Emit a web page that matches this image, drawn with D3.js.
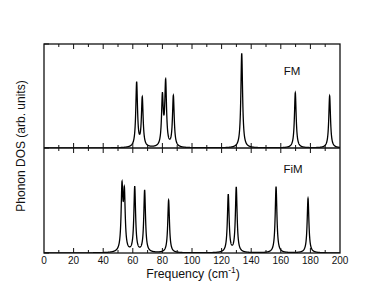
<!DOCTYPE html>
<html><head><meta charset="utf-8">
<script src="https://cdn.jsdelivr.net/npm/d3@7"></script>
<style>body{margin:0;background:#fff;}svg{display:block;}text{font-family:"Liberation Sans",Arial,Helvetica,sans-serif;fill:#111;}</style>
</head><body>
<svg id="c" width="385" height="298"></svg>
<script>
// Peak positions (cm^-1) and intensities (arb. units) for each panel
const fmFreq = [62.6, 66.4, 80.0, 82.2, 87.4, 133.6, 169.8, 193.0];
const fmInt  = [0.62, 0.47, 0.47, 0.61, 0.49, 0.91, 0.53, 0.50];
const fimFreq = [52.7, 54.3, 61.3, 68.0, 84.2, 124.5, 129.9, 156.8, 178.4];
const fimInt  = [0.59, 0.53, 0.62, 0.59, 0.50, 0.55, 0.62, 0.63, 0.52];
const panelLabels = ["FM", "FiM"];
const xTicks = [0, 20, 40, 60, 80, 100, 120, 140, 160, 180, 200];
const gamma = 0.7; // Lorentzian half-width used to broaden the peaks

const svg = d3.select("#c");
const L = 44, R = 340, T = 44, M = 148, B = 253;
const x = d3.scaleLinear().domain([0, 200]).range([L, R]);
const yTop = d3.scaleLinear().domain([0, 1]).range([M, T]);
const yBot = d3.scaleLinear().domain([0, 1]).range([B, M]);

function dos(freqs, ints) {
  const pts = [];
  for (let i = 0; i <= 4000; i++) {
    const f = i * 0.05;
    let s = 0;
    freqs.forEach((f0, k) => { s += ints[k] * gamma * gamma / ((f - f0) * (f - f0) + gamma * gamma); });
    pts.push([f, s]);
  }
  return pts;
}

svg.append("clipPath").attr("id", "clipT").append("rect").attr("x", L).attr("y", T).attr("width", R - L).attr("height", M - T);
svg.append("clipPath").attr("id", "clipB").append("rect").attr("x", L).attr("y", M).attr("width", R - L).attr("height", B - M);

const lineT = d3.line().x(d => x(d[0])).y(d => yTop(d[1]));
const lineB = d3.line().x(d => x(d[0])).y(d => yBot(d[1]));

svg.append("path").attr("d", lineT(dos(fmFreq, fmInt))).attr("fill", "none").attr("stroke", "#000").attr("stroke-width", 1.3).attr("clip-path", "url(#clipT)");
svg.append("path").attr("d", lineB(dos(fimFreq, fimInt))).attr("fill", "none").attr("stroke", "#000").attr("stroke-width", 1.3).attr("clip-path", "url(#clipB)");

const minor = d3.range(10, 200, 20);
const major = xTicks.slice(1, -1);
const ax = svg.append("g").attr("stroke", "#111").attr("fill", "none");
// frame
ax.append("rect").attr("x", L).attr("y", T).attr("width", R - L).attr("height", B - T).attr("stroke-width", 1.3);
ax.append("line").attr("x1", L).attr("x2", R).attr("y1", M).attr("y2", M).attr("stroke-width", 1.6);
// top ticks (inward)
major.forEach(v => ax.append("line").attr("x1", x(v)).attr("x2", x(v)).attr("y1", T).attr("y2", T + 5));
minor.forEach(v => ax.append("line").attr("x1", x(v)).attr("x2", x(v)).attr("y1", T).attr("y2", T + 3));
// middle ticks both sides
major.forEach(v => ax.append("line").attr("x1", x(v)).attr("x2", x(v)).attr("y1", M - 5).attr("y2", M + 5));
minor.forEach(v => ax.append("line").attr("x1", x(v)).attr("x2", x(v)).attr("y1", M - 3).attr("y2", M + 3));
// bottom ticks (inward)
major.forEach(v => ax.append("line").attr("x1", x(v)).attr("x2", x(v)).attr("y1", B).attr("y2", B - 5));
minor.forEach(v => ax.append("line").attr("x1", x(v)).attr("x2", x(v)).attr("y1", B).attr("y2", B - 3));
// left ticks
[T, M, B].forEach(yv => ax.append("line").attr("x1", L).attr("x2", L + 5).attr("y1", yv).attr("y2", yv));

// tick labels
svg.append("g").selectAll("text").data(xTicks).join("text")
  .attr("x", d => x(d)).attr("y", 264).attr("text-anchor", "middle").attr("font-size", 10).text(d => d);

// panel labels
svg.append("text").attr("x", 292).attr("y", 74.5).attr("text-anchor", "middle").attr("font-size", 11.5).text(panelLabels[0]);
svg.append("text").attr("x", 293).attr("y", 172.5).attr("text-anchor", "middle").attr("font-size", 11.5).text(panelLabels[1]);

// axis titles
const xl = svg.append("text").attr("x", (L + R) / 2 + 1).attr("y", 278).attr("text-anchor", "middle").attr("font-size", 12.3);
xl.append("tspan").text("Frequency (cm");
xl.append("tspan").attr("dy", -5).attr("font-size", 8.5).text("-1");
xl.append("tspan").attr("dy", 5).text(")");

svg.append("text").attr("transform", "translate(24.5,146) rotate(-90)")
  .attr("text-anchor", "middle").attr("font-size", 12).text("Phonon DOS (arb. units)");
</script>
</body></html>
